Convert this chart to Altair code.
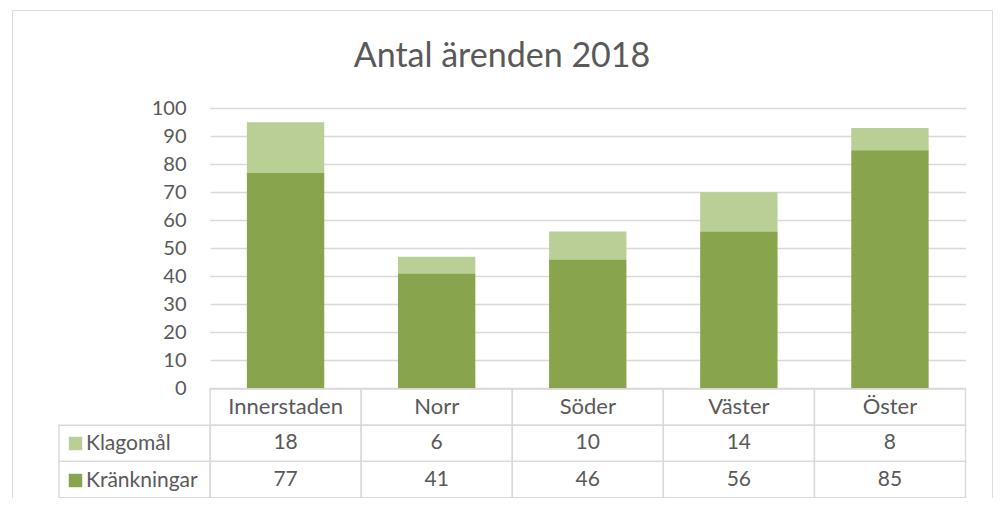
import altair as alt
import pandas as pd

# ---- data ----
districts = ["Innerstaden", "Norr", "Söder", "Väster", "Öster"]
klagomal = [18, 6, 10, 14, 8]
krankningar = [77, 41, 46, 56, 85]
series_names = ["Klagomål", "Kränkningar"]
series_colors = ["#b9cf96", "#88a54e"]
y_ticks = list(range(0, 101, 10))
title_text = "Antal ärenden 2018"

FONT = "Lato"
TXT = "#595959"
LINE = "#d9d9d9"

label_col = " "
header_row = "header"
values_by_series = {"Klagomål": klagomal, "Kränkningar": krankningar}

bars_df = pd.DataFrame({
    "district": districts * 2,
    "series": [series_names[0]] * len(districts) + [series_names[1]] * len(districts),
    "value": klagomal + krankningar,
})

cols = [label_col] + districts
rows = [header_row] + series_names
cell_records = []
for r in rows:
    for c in cols:
        if r == header_row and c == label_col:
            continue
        if c == label_col:
            text = ""
        elif r == header_row:
            text = c
        else:
            text = str(values_by_series[r][districts.index(c)])
        cell_records.append({"col": c, "row": r, "text": text, "is_header": r == header_row})
cells_df = pd.DataFrame(cell_records)

# ---- scales ----
x_bars = alt.Scale(domain=districts, range=[198, 953.5], paddingInner=0.488, paddingOuter=0.244)
y_bars = alt.Scale(domain=[0, 100], range=[378.3, 98.3], nice=False, zero=True)
x_tab = alt.Scale(domain=cols, range=[47, 953.5], paddingInner=0, paddingOuter=0)
y_tab = alt.Scale(domain=rows, range=[379, 487.6], paddingInner=0, paddingOuter=0)

bars = alt.Chart(bars_df).transform_calculate(
    stack_order="datum.series === 'Kränkningar' ? 0 : 1"
).mark_bar().encode(
    x=alt.X("district:N", scale=x_bars, axis=None, sort=districts),
    y=alt.Y("value:Q", stack="zero", scale=y_bars,
            axis=alt.Axis(values=y_ticks, offset=-198, domain=False, ticks=False, tickSize=0,
                          labelPadding=24, grid=True, gridColor=LINE, gridWidth=1.3,
                          labelFontSize=20, labelColor=TXT, labelFont=FONT, title=None)),
    color=alt.Color("series:N", scale=alt.Scale(domain=series_names, range=series_colors),
                    legend=alt.Legend(orient="none", legendX=53, legendY=423, title=None,
                                      symbolType="square", symbolSize=180, symbolStrokeWidth=0,
                                      symbolOpacity=1, labelFontSize=21, labelFont=FONT,
                                      labelColor=TXT, labelOffset=0, rowPadding=15, padding=0)),
    order=alt.Order("stack_order:Q"),
)

cells = alt.Chart(cells_df).mark_rect(fill="white", fillOpacity=0, stroke=LINE, strokeWidth=1.4).encode(
    x=alt.X("col:N", scale=x_tab, axis=None, sort=cols),
    y=alt.Y("row:N", scale=y_tab, axis=None, sort=rows),
)

header_texts = alt.Chart(cells_df).transform_filter("datum.is_header").mark_text(
    fontSize=22, font=FONT, color=TXT, baseline="middle", align="center"
).encode(
    x=alt.X("col:N", scale=x_tab, axis=None, sort=cols),
    y=alt.Y("row:N", scale=y_tab, axis=None, sort=rows),
    text="text:N",
)

value_texts = alt.Chart(cells_df).transform_filter("!datum.is_header").mark_text(
    fontSize=21, font=FONT, color=TXT, baseline="middle", align="center"
).encode(
    x=alt.X("col:N", scale=x_tab, axis=None, sort=cols),
    y=alt.Y("row:N", scale=y_tab, axis=None, sort=rows),
    text="text:N",
)

chart = alt.layer(bars, cells, header_texts, value_texts).resolve_scale(
    x="independent", y="independent"
).properties(
    width=980,
    height=505,
    autosize="none",
    padding={"left": 4, "top": 2, "right": 1, "bottom": -17},
    title=alt.Title(title_text, fontSize=34, font=FONT, color=TXT, fontWeight="normal",
                    anchor="middle", offset=-91, baseline="alphabetic"),
).configure_view(stroke=LINE, strokeWidth=1.5).configure(background="white")

chart.save("out.html", embed_options={"renderer": "svg", "actions": False})
